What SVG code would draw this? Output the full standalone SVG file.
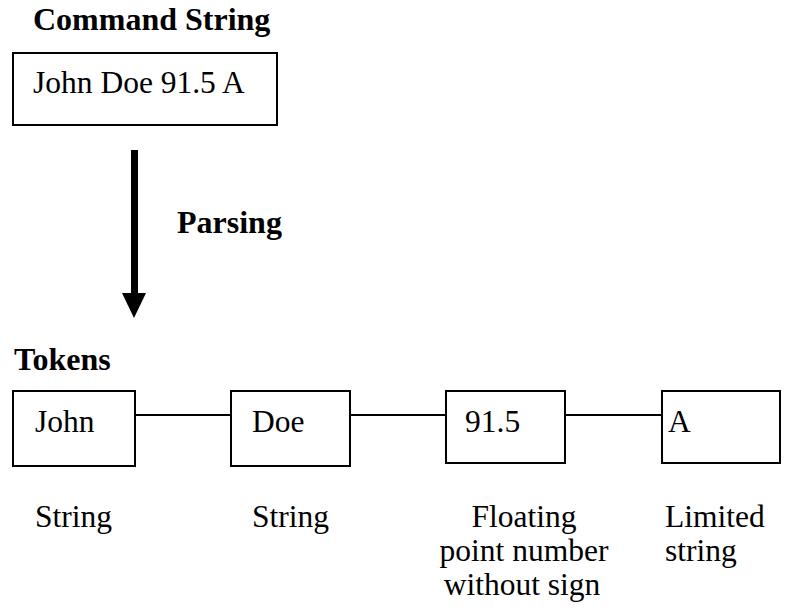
<svg xmlns="http://www.w3.org/2000/svg" width="785" height="608" viewBox="0 0 785 608">
  <style>
    .box { fill: #fff; stroke: #000; stroke-width: 2; }
    .link { stroke: #000; stroke-width: 2; fill: none; }
    .title { font-family: "Liberation Serif", "Times New Roman", serif; font-weight: bold; font-size: 32px; fill: #000; }
    .txt { font-family: "Liberation Serif", "Times New Roman", serif; font-size: 31.5px; fill: #000; }
    .mid { text-anchor: middle; }
  </style>
  <rect width="785" height="608" fill="#fff"/>

  <!-- input command -->
  <g id="command-string">
    <text class="title" x="33" y="30">Command String</text>
    <rect class="box" x="13" y="53" width="264" height="72"/>
    <text class="txt" x="33" y="93">John Doe 91.5 A</text>
  </g>

  <!-- parsing step -->
  <g id="parsing">
    <rect x="131" y="150" width="7" height="144" fill="#000"/>
    <polygon points="122,293 146,293 134,318" fill="#000"/>
    <text class="title" x="177" y="233">Parsing</text>
  </g>

  <text class="title" x="14" y="370">Tokens</text>

  <!-- token chain connectors -->
  <g id="connectors">
    <line class="link" x1="135" y1="415" x2="231" y2="415"/>
    <line class="link" x1="350" y1="415" x2="446" y2="415"/>
    <line class="link" x1="565" y1="415" x2="662" y2="415"/>
  </g>

  <g id="token-john">
    <rect class="box" x="13" y="391" width="122" height="75"/>
    <text class="txt" x="35" y="432">John</text>
    <text class="txt" x="35" y="527">String</text>
  </g>

  <g id="token-doe">
    <rect class="box" x="231" y="391" width="119" height="75"/>
    <text class="txt" x="252" y="432">Doe</text>
    <text class="txt" x="252" y="527">String</text>
  </g>

  <g id="token-number">
    <rect class="box" x="446" y="391" width="119" height="72"/>
    <text class="txt" x="465" y="432">91.5</text>
    <text class="txt mid" x="524" y="527">Floating</text>
    <text class="txt mid" x="524" y="561">point number</text>
    <text class="txt mid" x="522" y="595">without sign</text>
  </g>

  <g id="token-a">
    <rect class="box" x="662" y="391" width="118" height="72"/>
    <text class="txt" x="668" y="432">A</text>
    <text class="txt" x="665" y="527">Limited</text>
    <text class="txt" x="665" y="561">string</text>
  </g>
</svg>
